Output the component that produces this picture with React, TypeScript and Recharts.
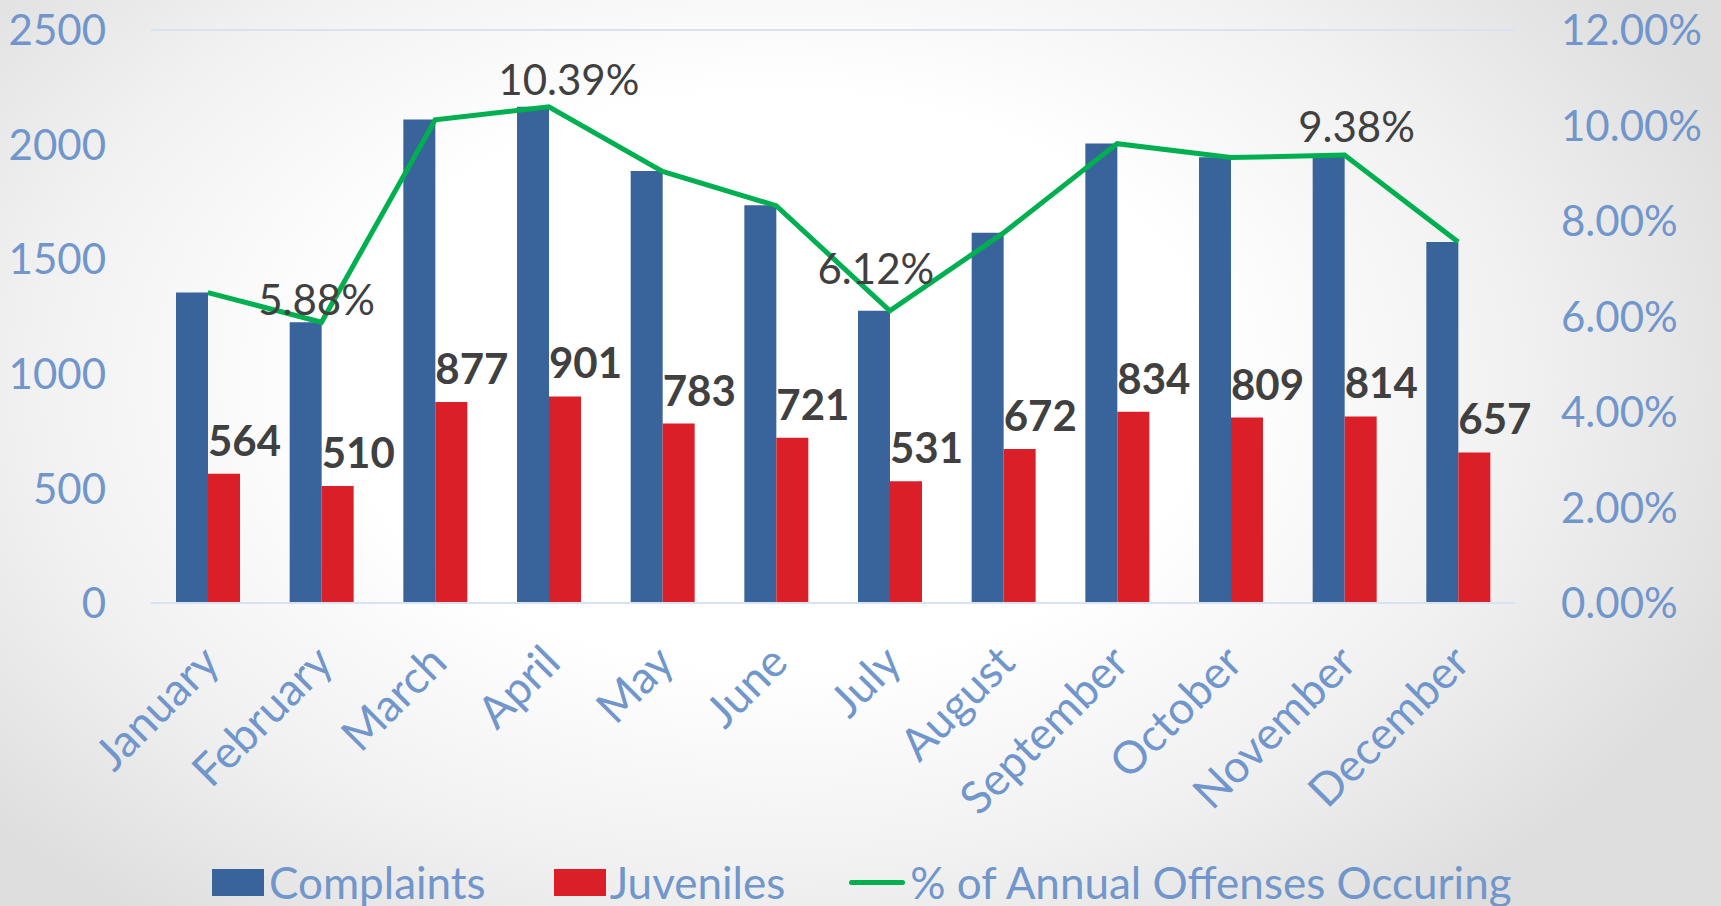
import React from 'react';
import { ComposedChart, Bar, Line, XAxis, YAxis, CartesianGrid, Legend, LabelList } from 'recharts';

const months = ['January', 'February', 'March', 'April', 'May', 'June', 'July', 'August', 'September', 'October', 'November', 'December'];
const complaints = [1355, 1225, 2110, 2165, 1885, 1735, 1275, 1615, 2005, 1945, 1955, 1575];
const juveniles = [564, 510, 877, 901, 783, 721, 531, 672, 834, 809, 814, 657];
const annualPct = [6.5, 5.88, 10.12, 10.39, 9.04, 8.32, 6.12, 7.75, 9.62, 9.33, 9.38, 7.56];
const leftTicks = [0, 500, 1000, 1500, 2000, 2500];
const rightTicks = [0, 2, 4, 6, 8, 10, 12];

const data = months.map((m, i) => ({ month: m, complaints: complaints[i], juveniles: juveniles[i], pct: annualPct[i] }));

const FONT = 'Lato, "Open Sans", sans-serif';
const AXIS_COLOR = '#7096CC';
const LABEL_COLOR = '#404040';
const BLUE = '#38639B';
const RED = '#DA1F28';
const GREEN = '#00B050';
const GRID = '#D9E2F1';
const FS = 42;

const pctLabelOffsets: Record<number, [number, number]> = {
  1: [-5, -7],
  3: [20, -12],
  6: [-14, -27],
  10: [12, -13],
};

const XTick = (props: any) => {
  const { x, y, payload } = props;
  return (
    <g transform={`translate(${x + 14},${y + 62})`}>
      <text textAnchor="end" transform="rotate(-45)" fill={AXIS_COLOR} fontSize={45} fontFamily={FONT}>
        {payload.value}
      </text>
    </g>
  );
};

const LeftTick = (props: any) => {
  const { x, y, payload } = props;
  return (
    <text x={x - 45} y={y} dy="0.36em" textAnchor="end" fill={AXIS_COLOR} fontSize={FS} fontFamily={FONT}>
      {payload.value}
    </text>
  );
};

const RightTick = (props: any) => {
  const { x, y, payload } = props;
  return (
    <text x={x + 46} y={y} dy="0.36em" textAnchor="start" fill={AXIS_COLOR} fontSize={FS} fontFamily={FONT}>
      {`${Number(payload.value).toFixed(2)}%`}
    </text>
  );
};

const JuvLabel = (props: any) => {
  const { x, y, value } = props;
  return (
    <text x={x} y={y - 18} textAnchor="start" fill={LABEL_COLOR} fontSize={FS} fontWeight="bold" fontFamily={FONT}>
      {value}
    </text>
  );
};

const PctLabel = (props: any) => {
  const { x, y, value, index } = props;
  const off = pctLabelOffsets[index];
  if (!off) return null;
  return (
    <text x={x + off[0]} y={y + off[1]} textAnchor="middle" fill={LABEL_COLOR} fontSize={FS} fontFamily={FONT}>
      {`${Number(value).toFixed(2)}%`}
    </text>
  );
};

const renderLegend = () => (
  <div
    style={{
      height: 60,
      paddingTop: 12,
      boxSizing: 'border-box',
      display: 'flex',
      alignItems: 'center',
      paddingLeft: 212,
      fontFamily: FONT,
      fontSize: 44,
      color: AXIS_COLOR,
      lineHeight: 1,
      whiteSpace: 'nowrap',
    }}
  >
    <span style={{ display: 'inline-block', width: 52, height: 27, background: BLUE, marginRight: 5 }} />
    <span style={{ marginRight: 68 }}>Complaints</span>
    <span style={{ display: 'inline-block', width: 52, height: 27, background: RED, marginRight: 4 }} />
    <span style={{ marginRight: 64 }}>Juveniles</span>
    <span style={{ display: 'inline-block', width: 56, height: 5, borderRadius: 3, background: GREEN, marginRight: 5 }} />
    <span>% of Annual Offenses Occuring</span>
  </div>
);

export default function App() {
  return (
    <div
      style={{
        width: 1721,
        height: 906,
        background: 'radial-gradient(ellipse 60% 75% at 45% 42%, #ffffff 42%, #f1f1f1 72%, #dedede 100%)',
      }}
    >
      <style>{`body{margin:0}`}</style>
      <ComposedChart
        width={1721}
        height={906}
        data={data}
        margin={{ top: 30, right: 0, bottom: 0, left: 0 }}
        barGap={0}
      >
        <CartesianGrid vertical={false} stroke={GRID} strokeWidth={2} />
        <XAxis
          dataKey="month"
          interval={0}
          height={243}
          tickLine={false}
          tickSize={0}
          tickMargin={0}
          axisLine={{ stroke: GRID, strokeWidth: 2 }}
          tick={<XTick />}
        />
        <YAxis
          yAxisId="left"
          orientation="left"
          width={151}
          domain={[0, 2500]}
          ticks={leftTicks}
          axisLine={false}
          tickLine={false}
          tickSize={0}
          tickMargin={0}
          tick={<LeftTick />}
        />
        <YAxis
          yAxisId="right"
          orientation="right"
          width={206}
          domain={[0, 12]}
          ticks={rightTicks}
          axisLine={false}
          tickLine={false}
          tickSize={0}
          tickMargin={0}
          tick={<RightTick />}
        />
        <Bar yAxisId="left" dataKey="complaints" name="Complaints" fill={BLUE} barSize={32} isAnimationActive={false} />
        <Bar yAxisId="left" dataKey="juveniles" name="Juveniles" fill={RED} barSize={32} isAnimationActive={false}>
          <LabelList dataKey="juveniles" content={<JuvLabel />} />
        </Bar>
        <Line
          yAxisId="right"
          dataKey="pct"
          name="% of Annual Offenses Occuring"
          stroke={GREEN}
          strokeWidth={5}
          dot={false}
          activeDot={false}
          type="linear"
          isAnimationActive={false}
        >
          <LabelList dataKey="pct" content={<PctLabel />} />
        </Line>
        <Legend verticalAlign="bottom" content={renderLegend} />
      </ComposedChart>
    </div>
  );
}
